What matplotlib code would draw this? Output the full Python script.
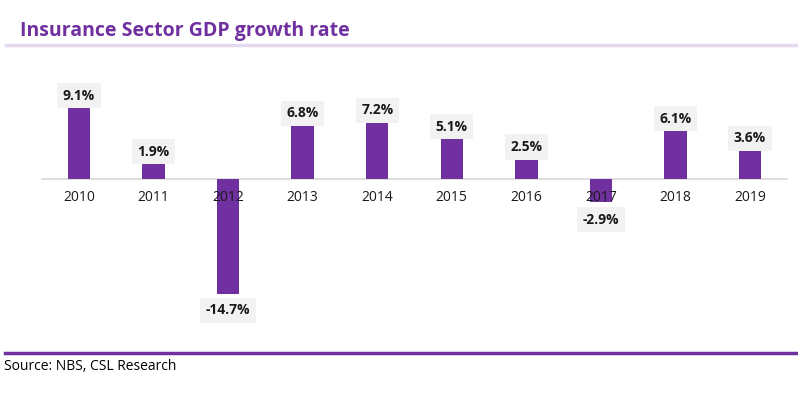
import matplotlib.pyplot as plt
from matplotlib.lines import Line2D

# data
years = ["2010", "2011", "2012", "2013", "2014", "2015", "2016", "2017", "2018", "2019"]
growth = [9.1, 1.9, -14.7, 6.8, 7.2, 5.1, 2.5, -2.9, 6.1, 3.6]

purple = "#7030A0"

fig = plt.figure(figsize=(7.98, 3.93), dpi=100)
W, H = 798, 393

# axes placed in pixel terms: zero line at y=179 px, 7.8 px per unit
top_px, bot_px = 60, 335
ax = fig.add_axes([0, 1 - bot_px / H, 1, (bot_px - top_px) / H])
ppu = 7.8
ax.set_ylim(-(bot_px - 179) / ppu, (179 - top_px) / ppu)
# bars centred at 79 px and 750 px
step = (750 - 79) / 9
ax.set_xlim(-79 / step, (W - 79) / step)

x = list(range(len(years)))
ax.bar(x, growth, width=0.3, color=purple, zorder=2)
ax.plot([-0.5, 9.5], [0, 0], color="#D9D9D9", lw=1.2, zorder=1)

for i, (yr, v) in enumerate(zip(years, growth)):
    ax.annotate(yr, (i, 0), xytext=(0, -13), textcoords="offset points",
                ha="center", va="center", fontsize=10, color="#1a1a1a",
                family="Open Sans", zorder=5)
    off = 9 if v > 0 else -12
    if yr == "2017":
        off = -13
    ax.annotate(f"{v:.1f}%", (i, v), xytext=(0, off), textcoords="offset points",
                ha="center", va="center", fontsize=10, fontweight="bold",
                color="#1a1a1a", family="Open Sans", zorder=5,
                bbox=dict(boxstyle="square,pad=0.4", fc="#F2F2F2", ec="none"))
ax.axis("off")

# title and rules
fig.text(20 / W, 1 - 31 / H, "Insurance Sector GDP growth rate", color=purple,
         fontsize=14, fontweight="bold", family="Open Sans", va="center", ha="left")
fig.add_artist(Line2D([6 / W, 1], [1 - 44.5 / H] * 2, color="#E6D9F2", lw=2.5))
fig.add_artist(Line2D([5 / W, 1], [1 - 353 / H] * 2, color=purple, lw=2.5))
fig.text(4 / W, 1 - 366 / H, "Source: NBS, CSL Research", color="black",
         fontsize=10, family="Open Sans", va="center", ha="left")

fig.savefig("out.png", dpi=100)
